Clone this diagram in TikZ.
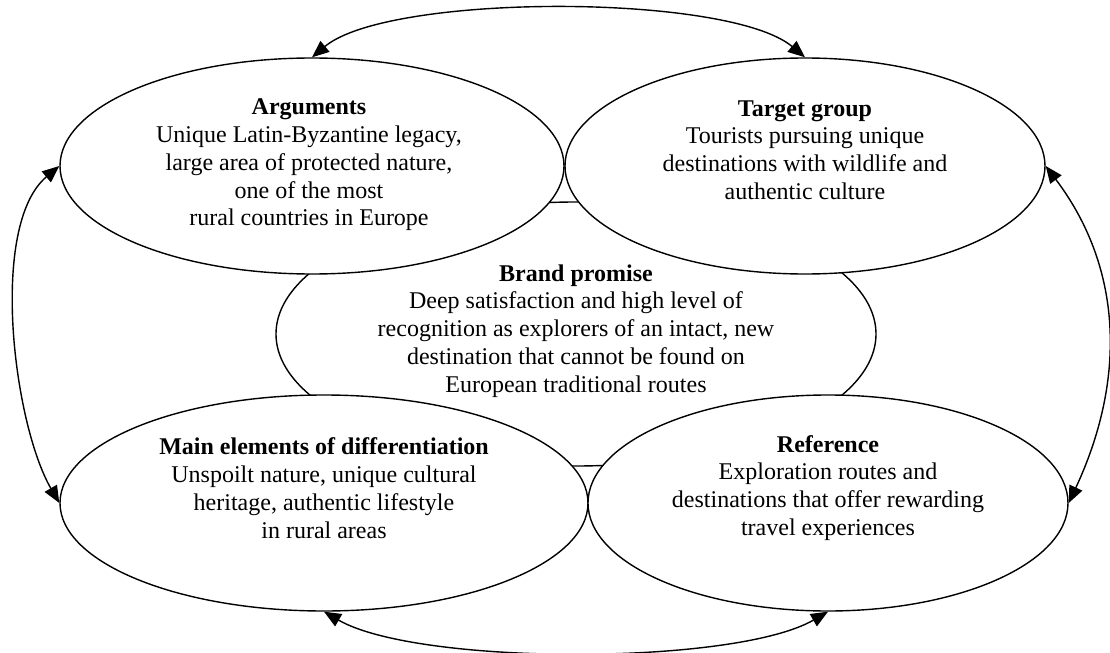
\documentclass[tikz,border=0pt]{standalone}
\usepackage{fontspec}
\setmainfont{Liberation Serif}
\usetikzlibrary{arrows.meta,shapes.geometric}

\tikzset{
  bubble/.style={ellipse,draw,fill=white,line width=0.7pt,inner sep=0pt,minimum height=108pt},
  blurb/.style={align=center,inner sep=0pt,font=\fontsize{12}{13.9}\selectfont},
  link/.style={{Triangle[length=8.5pt,width=7pt]}-{Triangle[length=8.5pt,width=7pt]},line width=0.7pt}
}

\begin{document}
\begin{tikzpicture}[x=0.5pt,y=0.5pt]
  \useasboundingbox (0,0) rectangle (1110,-653);

  % the core in the middle
  \node[bubble,minimum width=300pt,minimum height=132pt] (brand) at (576,-334) {};

  % the four around it
  \node[bubble,minimum width=252pt] (args) at (312,-166) {};
  \node[bubble,minimum width=240pt] (tgt) at (805,-166) {};
  \node[bubble,minimum width=264pt] (diff) at (324,-503) {};
  \node[bubble,minimum width=240pt] (ref) at (828,-503) {};

  % texts
  \node[blurb] (brand-txt) at (576,-331) {\textbf{Brand promise}\\Deep satisfaction and high level of\\recognition as explorers of an intact, new\\destination that cannot be found on\\European traditional routes};
  \node[blurb] (args-txt) at (309,-165) {\textbf{Arguments}\\Unique Latin-Byzantine legacy,\\large area of protected nature,\\one of the most\\rural countries in Europe};
  \node[blurb] (tgt-txt) at (805,-150) {\textbf{Target group}\\Tourists pursuing unique\\destinations with wildlife and\\authentic culture};
  \node[blurb] (diff-txt) at (324,-488) {\textbf{Main elements of differentiation}\\Unspoilt nature, unique cultural\\heritage, authentic lifestyle\\in rural areas};
  \node[blurb] (ref-txt) at (828,-488) {\textbf{Reference}\\Exploration routes and\\destinations that offer rewarding\\travel experiences};

  % arrows round the outside
  \draw[link] (args.north) to[out=40,in=140,looseness=0.52] (tgt.north);
  \draw[link] (args.west) to[out=220,in=120,looseness=0.7] (diff.west);
  \draw[link] (tgt.east) to[out=-53,in=65,looseness=1] (ref.east);
  \draw[link] (diff.south) to[out=-30,in=-150,looseness=0.55] (ref.south);
\end{tikzpicture}
\end{document}
